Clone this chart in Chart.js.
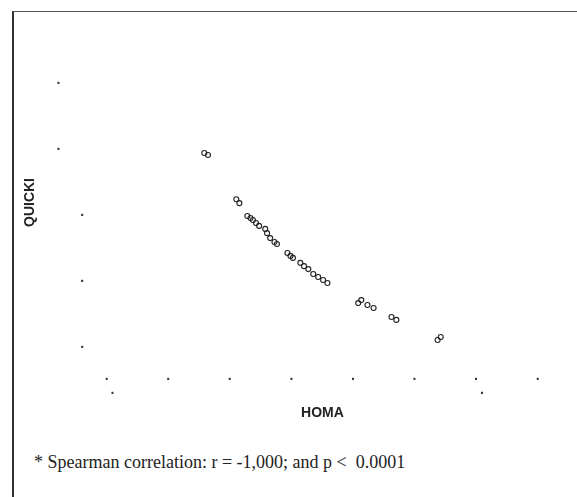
<!DOCTYPE html>
<html>
<head>
<meta charset="utf-8">
<script src="https://cdn.jsdelivr.net/npm/chart.js@4.4.1/dist/chart.umd.min.js"></script>
<style>
  html, body { margin: 0; padding: 0; background: #fff; }
  body { width: 577px; height: 497px; position: relative; overflow: hidden; }
  .frame {
    position: absolute; left: 12px; top: 11px; right: -2px; bottom: -2px;
    border-top: 1px solid #555; border-left: 2px solid #333;
  }
  #wrap { position: absolute; left: 0; top: 0; width: 577px; height: 430px; }
  .note {
    position: absolute; left: 34px; top: 452px; line-height: 21px;
    font-family: 'Liberation Serif', 'Times New Roman', serif; font-size: 18px; color: #222;
    white-space: pre;
  }
</style>
</head>
<body>
<div class="frame"></div>
<div id="wrap"><canvas id="scatter" width="577" height="430"></canvas></div>
<div class="note">* Spearman correlation: r = -1,000; and p &lt;  0.0001</div>
<script>
// values (HOMA vs QUICKI)
const homa = [1.58, 1.64, 2.10, 2.15, 2.28, 2.33, 2.37, 2.42, 2.47, 2.57, 2.60, 2.65, 2.72, 2.76,
              2.93, 2.98, 3.02, 3.14, 3.20, 3.27, 3.35, 3.43, 3.51, 3.58, 4.08, 4.13, 4.23, 4.33,
              4.62, 4.70, 5.37, 5.42];
const quicki = [0.3591, 0.3585, 0.3451, 0.3439, 0.3400, 0.3394, 0.3388, 0.3379, 0.3370, 0.3361,
                0.3348, 0.3333, 0.3321, 0.3315, 0.3288, 0.3279, 0.3273, 0.3258, 0.3248, 0.3239,
                0.3224, 0.3215, 0.3206, 0.3197, 0.3136, 0.3145, 0.3130, 0.3121, 0.3094, 0.3085,
                0.3024, 0.3033];
const xTicks = [0, 1, 2, 3, 4, 5, 6, 7];
const yTicks = [0.30, 0.32, 0.34, 0.36, 0.38];

// tick labels in the source are illegible, only a dot of each survives
const tickMark = '\u00b7';

const points = homa.map((h, i) => ({ x: h, y: quicki[i] }));

const ctx = document.getElementById('scatter').getContext('2d');
const chart = new Chart(ctx, {
    type: 'scatter',
    data: {
        datasets: [{
            label: 'QUICKI',
            data: points,
            pointStyle: 'circle',
            pointRadius: 2.5,
            pointBorderWidth: 1.1,
            pointBorderColor: '#222',
            pointBackgroundColor: 'rgba(0,0,0,0)'
        }]
    },
    options: {
        responsive: false,
        animation: false,
        layout: { padding: { left: 0, right: 39, top: 33, bottom: 0 } },
        plugins: {
            legend: { display: false },
            tooltip: { enabled: false }
        },
        scales: {
            x: {
                type: 'linear',
                min: 0,
                max: 7,
                afterBuildTicks: (scale) => { scale.ticks = xTicks.map(v => ({ value: v })); },
                afterFit: (scale) => { scale.height = 58; },
                grid: { display: false, drawTicks: false },
                border: { display: false },
                ticks: {
                    autoSkip: false,
                    padding: 1,
                    color: '#333',
                    font: { size: 14, weight: 'bold', lineHeight: 1 },
                    callback: (v) => (v === 0 || v === 6) ? [tickMark, '   ' + tickMark] : tickMark
                },
                title: {
                    display: true,
                    text: 'HOMA',
                    color: '#222',
                    font: { size: 14, weight: 'bold' },
                    padding: { top: 4, bottom: 8 }
                }
            },
            y: {
                type: 'linear',
                min: 0.2927,
                max: 0.3955,
                afterBuildTicks: (scale) => { scale.ticks = yTicks.map(v => ({ value: v })); },
                afterFit: (scale) => { scale.width = 107; },
                grid: { display: false, drawTicks: false },
                border: { display: false },
                ticks: {
                    autoSkip: false,
                    padding: 22,
                    color: '#333',
                    font: { size: 14, weight: 'bold' },
                    callback: (v) => v > 0.355 ? tickMark + '\u2003\u2002\u2009' : tickMark
                },
                title: {
                    display: true,
                    text: 'QUICKI',
                    color: '#222',
                    font: { size: 14, weight: 'bold' },
                    padding: { top: 22, bottom: 4 }
                }
            }
        }
    }
});
</script>
</body>
</html>
